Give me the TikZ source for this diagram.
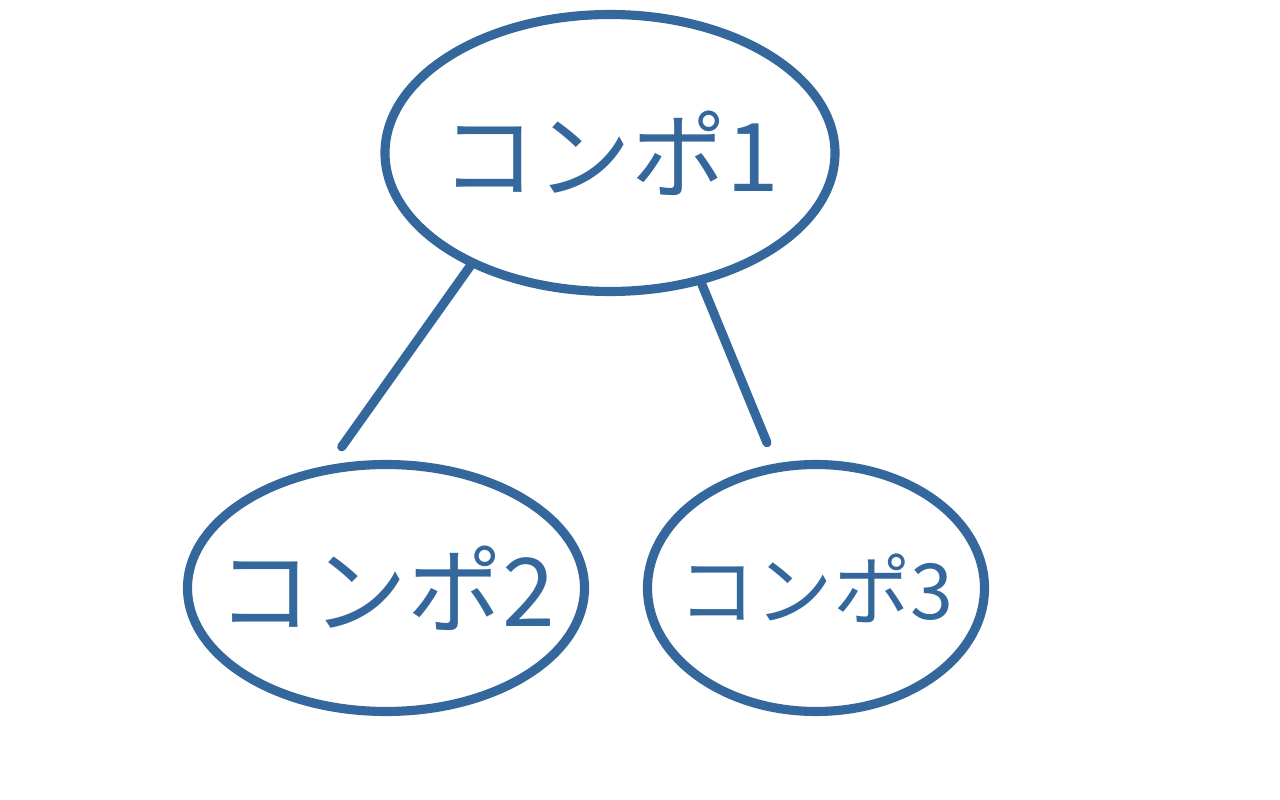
\documentclass[tikz,border=0pt]{standalone}
\usepackage{fontspec}
\usepackage{tikz}
\usetikzlibrary{shapes.geometric}
\newfontfamily\jpfont{Noto Sans CJK JP}
\definecolor{penblue}{HTML}{34679C}

\begin{document}
\begin{tikzpicture}[
      level 1/.style={sibling distance=86mm},
      level distance=87mm,
      every node/.style={ellipse, draw=penblue, line width=5.2pt, inner xsep=-10mm, inner ysep=0pt,
        text=penblue, font=\jpfont\fontsize{54}{60}\selectfont},
      edge from parent/.style={draw=penblue, line width=5.2pt, line cap=round, shorten >=4.5mm}
    ]
    \useasboundingbox (-12.2,3.06) rectangle (13.4,-12.94);
    \node [minimum width=90mm, minimum height=55.4mm] (root) {コンポ1}
      child [xshift=-1.8mm, edge from parent path={(\tikzparentnode.219) -- (\tikzchildnode.115)}]
        {node [minimum width=79.4mm, minimum height=49.4mm] (c1) {コンポ2}
      }
      child [xshift=-1.8mm, edge from parent path={(\tikzparentnode.305) -- (\tikzchildnode.108)}]
        {node [minimum width=67.4mm, minimum height=49.4mm, font=\jpfont\fontsize{44}{50}\selectfont] (c2) {コンポ3}
      };
    \end{tikzpicture}
\end{document}
